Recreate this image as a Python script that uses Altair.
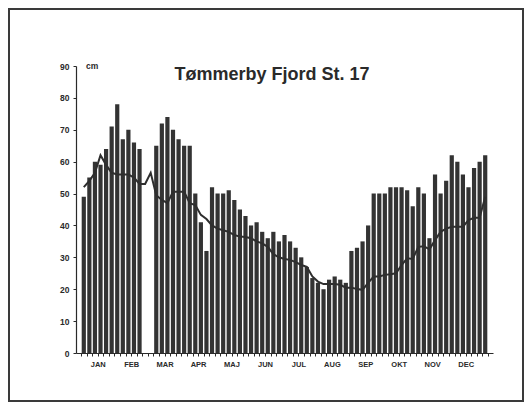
import altair as alt
import pandas as pd

title_text = "Tømmerby Fjord St. 17"
unit_text = "cm"
months = ["JAN", "FEB", "MAR", "APR", "MAJ", "JUN", "JUL", "AUG", "SEP", "OKT", "NOV", "DEC"]

# 73 five-day periods over the year
period = list(range(1, 74))
depth = [49, 55, 60, 59, 64, 71, 78, 67, 70, 66, 64, None, None, 65, 72, 74, 70, 67, 65, 65,
         50, 41, 32, 52, 50, 50, 51, 48, 45, 43, 40, 41, 38, 36, 38, 35, 37, 35, 33, 30,
         27, 23.5, 22, 20, 23, 24, 23, 22, 32, 33, 35, 40, 50, 50, 50, 52, 52, 52, 51, 46,
         52, 50, 36, 56, 50, 54, 62, 60, 56, 52, 58, 60, 62]
mean_depth = [52, 54, 56.5, 62, 59, 56.5, 56, 56, 56, 55, 53, 53, 56.5, 49.5, 48, 47, 50.6, 50.6, 50.6, 47,
              46.4, 43.3, 42, 40, 39, 38.5, 38, 37, 36.5, 36.4, 36, 35, 34.4, 33.3, 31, 30, 29.5, 29.2, 28.5, 27.6,
              27, 24, 22.4, 21.6, 21.6, 21.6, 21.4, 20.5, 20.5, 20.1, 19.8, 22, 24, 24, 24.5, 24.7, 25, 27.6, 29.7, 29.5,
              33.3, 33.5, 32.5, 35.4, 38, 39, 39.6, 39.6, 39.6, 41.7, 42.4, 42.4, 49]

df = pd.DataFrame({"period": period, "depth": depth, "mean": mean_depth})
df["pos"] = df["period"] - 0.5

W, H = 417, 287
PL, PT, PR, PB = 68, 58, 31, 49
FONT = "Liberation Sans"
INK = "#2a2a2a"

month_arr = "[" + ",".join("'%s'" % m for m in months) + "]"
x_axis = alt.Axis(
    values=list(range(0, 74)),
    labelExpr="datum.value % 6 == 3 ? " + month_arr + "[(datum.value - 3) / 6] : ''",
    title=None, tickSize=3, labelFontSize=7.5, labelFont=FONT, labelFontWeight="bold",
    labelPadding=4, labelOverlap=False, labelFlush=False, grid=False,
    domainColor=INK, tickColor=INK, labelColor=INK, domainWidth=1.2, tickWidth=1,
)
y_axis = alt.Axis(
    values=list(range(0, 91, 10)), title=None, tickSize=3, labelFontSize=8.5, labelFont=FONT,
    labelFontWeight="bold", labelPadding=4, grid=False, domainColor=INK, tickColor=INK,
    labelColor=INK, domainWidth=1.2, tickWidth=1,
)
xs = alt.Scale(domain=[0, 73], nice=False, zero=False)
ys = alt.Scale(domain=[0, 90], nice=False)

bars = alt.Chart(df).mark_bar(size=4.2, color="#333333").encode(
    x=alt.X("pos:Q", scale=xs, axis=x_axis),
    y=alt.Y("depth:Q", scale=ys, axis=y_axis),
)
line = alt.Chart(df).mark_line(color="#2e2e2e", strokeWidth=2).encode(
    x=alt.X("pos:Q", scale=xs, axis=x_axis),
    y=alt.Y("mean:Q", scale=ys, axis=y_axis),
)

one = pd.DataFrame({"a": [0]})
title = alt.Chart(one).mark_text(
    text=title_text, font=FONT, fontSize=18, fontWeight="bold", align="center",
    baseline="middle", color=INK,
).encode(x=alt.value(196), y=alt.value(9))
unit = alt.Chart(one).mark_text(
    text=unit_text, font=FONT, fontSize=8.5, fontWeight="bold", align="left",
    baseline="middle", color=INK,
).encode(x=alt.value(10), y=alt.value(0))
frame = alt.Chart(one).mark_rect(
    fill="transparent", stroke="#3a3a3a", strokeWidth=2, clip=False,
).encode(x=alt.value(-PL + 1), x2=alt.value(W + PR - 1), y=alt.value(-PT + 1), y2=alt.value(H + PB - 1))

chart = alt.layer(bars, line, title, unit, frame).properties(
    width=W, height=H,
    autosize=alt.AutoSizeParams(type="none"),
    padding={"left": PL, "top": PT, "right": PR, "bottom": PB},
).configure_view(stroke=None)

chart.save("out.html", embed_options={"renderer": "svg", "actions": False})
